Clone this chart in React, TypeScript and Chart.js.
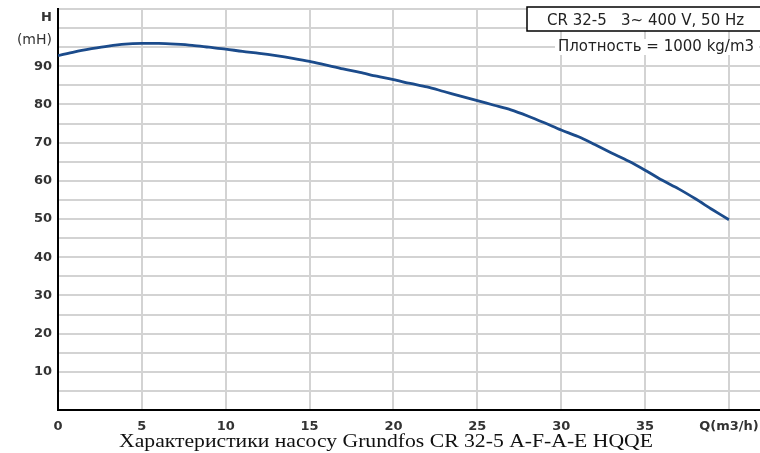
import React, { useEffect, useRef } from "react";
import { Chart, registerables } from "chart.js";

Chart.register(...registerables);

const flowQ: number[] = [0,1,2,3,4,5,6,7,8,9,10,11,12,13,14,15,16,17,18,19,20,21,22,23,24,25,26,27,28,29,30,31,32,33,34,35,36,37,38,39,40];
const headH: number[] = [92.8,93.8,94.6,95.3,95.8,96.0,96.0,95.8,95.5,95.0,94.5,93.9,93.4,92.8,92.1,91.3,90.3,89.3,88.4,87.4,86.5,85.5,84.6,83.4,82.2,81.0,79.8,78.6,77.0,75.2,73.3,71.6,69.5,67.3,65.2,62.8,60.2,57.9,55.3,52.5,49.8];
const xTicks: number[] = [0,5,10,15,20,25,30,35,40];
const xLastLabel = "Q(m3/h)";
const yTicks: number[] = [0,5,10,15,20,25,30,35,40,45,50,55,60,65,70,75,80,85,90,95,100,105];
const yLabelled: number[] = [10,20,30,40,50,60,70,80,90];
const yUnitTop = "H";
const yUnitBottom = "(mH)";
const boxText = "CR 32-5   3~ 400 V, 50 Hz";
const densityText = "Плотность = 1000 kg/m3";
const titleText = "Характеристики насосу Grundfos CR 32-5 A-F-A-E HQQE";

const TICK_FONT = "DejaVu Sans";

const textPlugin = {
  id: "extraText",
  afterDraw(chart: any) {
    const ctx = chart.ctx as CanvasRenderingContext2D;
    const area = chart.chartArea;
    ctx.save();
    // axis unit labels
    ctx.fillStyle = "#333";
    ctx.font = `bold 13px "${TICK_FONT}"`;
    ctx.textAlign = "right";
    ctx.textBaseline = "middle";
    ctx.fillText(yUnitTop, area.left - 6, 18);
    ctx.font = `14px "${TICK_FONT}"`;
    ctx.fillText(yUnitBottom, area.left - 6, 40);

    // top right box
    ctx.fillStyle = "#fff";
    ctx.fillRect(527, area.top - 2, 240, 24);
    ctx.strokeStyle = "#000";
    ctx.lineWidth = 1.5;
    ctx.strokeRect(527, area.top - 2, 240, 24);
    ctx.fillStyle = "#222";
    ctx.font = `15px "${TICK_FONT}"`;
    ctx.textAlign = "left";
    ctx.textBaseline = "middle";
    ctx.fillText(boxText, 547, 21);

    // density label with white background
    const w = ctx.measureText(densityText).width;
    ctx.fillStyle = "#fff";
    ctx.fillRect(555, 39, w + 8, 16);
    ctx.fillStyle = "#222";
    ctx.fillText(densityText, 558, 47);

    // title
    ctx.fillStyle = "#111";
    ctx.font = `19px "Liberation Serif"`;
    ctx.textAlign = "center";
    ctx.textBaseline = "middle";
    ctx.translate(386, 442);
    ctx.scale(1.14, 1);
    ctx.fillText(titleText, 0, 0);
    ctx.restore();
  },
};

export default function App() {
  const ref = useRef<HTMLCanvasElement | null>(null);
  useEffect(() => {
    document.body.style.margin = "0";
    const canvas = ref.current!;
    const chart = new Chart(canvas, {
      type: "line",
      data: {
        datasets: [
          {
            data: flowQ.map((q, i) => ({ x: q, y: headH[i] })),
            borderColor: "#1b4b8b",
            borderWidth: 2.8,
            pointRadius: 0,
            tension: 0.3,
            fill: false,
          },
        ],
      },
      options: {
        responsive: false,
        animation: false,
        layout: { padding: { top: 9, right: 0, left: 0, bottom: 0 } },
        plugins: { legend: { display: false }, tooltip: { enabled: false } },
        scales: {
          x: {
            type: "linear",
            min: 0,
            max: 41.85,
            afterBuildTicks: (s: any) => {
              s.ticks = xTicks.map((v) => ({ value: v }));
            },
            afterFit: (s: any) => {
              s.height = 43;
              s.paddingLeft = 0;
              s.paddingRight = 0;
            },
            grid: { color: "#d3d3d3", lineWidth: 2, drawTicks: false },
            border: { color: "#000", width: 2 },
            ticks: {
              autoSkip: false,
              maxRotation: 0,
              padding: 9,
              color: "#333",
              font: { family: TICK_FONT, size: 13, weight: "bold" },
              callback: (v: any) => (v === 40 ? xLastLabel : String(v)),
            },
          },
          y: {
            type: "linear",
            min: 0,
            max: 105,
            afterBuildTicks: (s: any) => {
              s.ticks = yTicks.map((v) => ({ value: v }));
            },
            afterFit: (s: any) => {
              s.width = 58;
              s.paddingTop = 0;
              s.paddingBottom = 0;
            },
            grid: { color: "#d3d3d3", lineWidth: 2, drawTicks: false },
            border: { color: "#000", width: 2 },
            ticks: {
              autoSkip: false,
              padding: 6,
              color: "#333",
              font: { family: TICK_FONT, size: 13, weight: "bold" },
              callback: (v: any) => (yLabelled.includes(v) ? String(v) : ""),
            },
          },
        },
      },
      plugins: [textPlugin],
    });
    return () => chart.destroy();
  }, []);
  return <canvas ref={ref} width={760} height={453} style={{ display: "block" }} />;
}
